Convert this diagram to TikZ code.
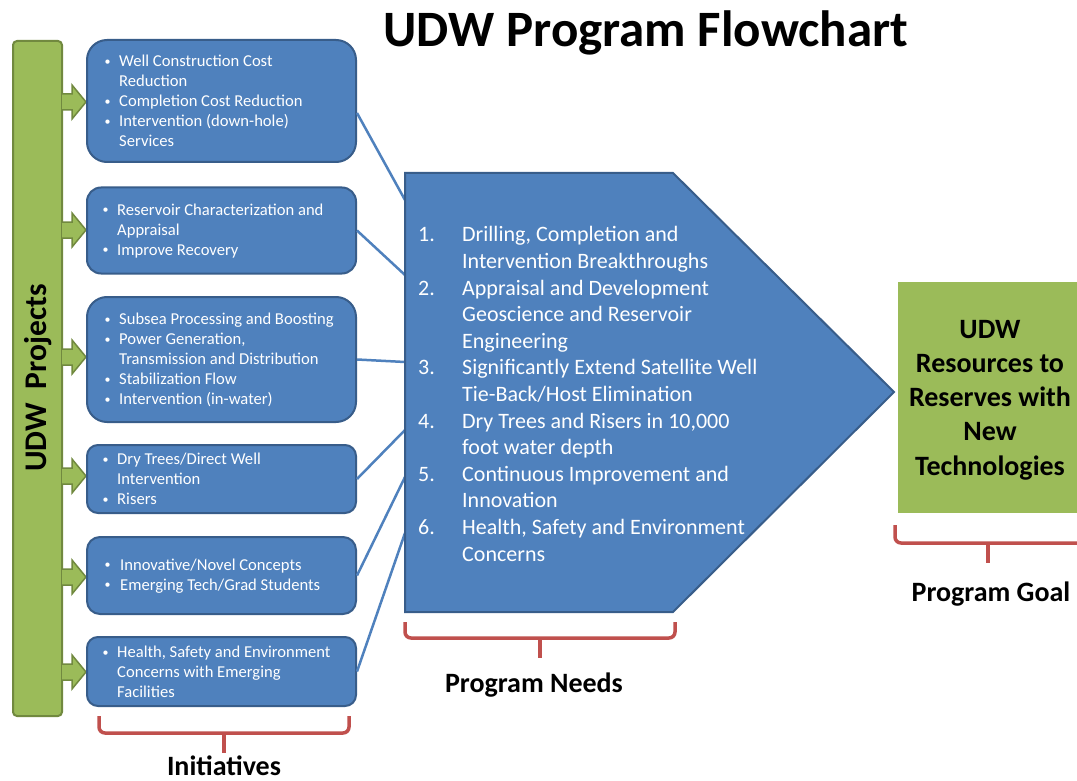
\documentclass[tikz,border=0pt]{standalone}
\usepackage{fontspec}
\setmainfont{Carlito}
\definecolor{bluef}{HTML}{4F81BD}
\definecolor{blueb}{HTML}{385D8A}
\definecolor{greenf}{HTML}{9BBB59}
\definecolor{greenb}{HTML}{71893F}
\definecolor{redc}{HTML}{C0504D}
\newcommand\bdot{\raisebox{1.6pt}{\fontsize{12}{12}\selectfont\textbullet}}
\newcommand\bl{\makebox[16pt][l]{\hspace{1.5pt}\bdot}}
\newcommand\ind{\hspace*{16pt}}
\newcommand\nm[1]{\makebox[44pt][l]{#1}}
\begin{document}
\begin{tikzpicture}[x=1pt,y=-1pt,
  ibox/.style={draw=blueb, fill=bluef, line width=2pt, minimum width=269pt, inner sep=0pt},
  itext/.style={anchor=west, align=left, inner sep=0pt, text=white, font=\fontsize{16.6}{20}\selectfont},
  ntext/.style={anchor=west, align=left, inner sep=0pt, text=white, font=\fontsize{22}{26.6}\selectfont},
  conn/.style={draw=bluef, line width=2.5pt},
  garrow/.style={fill=greenf, draw=greenb, line width=1.5pt, line join=miter},
  brace/.style={draw=redc, line width=3.5pt, rounded corners=6pt},
  lab/.style={font=\fontsize{28}{34}\selectfont\bfseries, anchor=base, inner sep=0pt}]
\useasboundingbox (0,0) rectangle (1077,781);
\fill[white] (0,0) rectangle (1077,781);

% title
\node[font=\fontsize{51}{60}\selectfont\bfseries, anchor=base, inner sep=0pt] (title) at (646,47) {UDW Program Flowchart};

% left bar
\node[draw=greenb, fill=greenf, line width=2pt, rounded corners=4pt, minimum width=49pt, minimum height=675pt, inner sep=0pt] (bar) at (37.5,378.5) {};
\node[rotate=90, font=\fontsize{31.5}{36}\selectfont\bfseries, inner sep=0pt] (projl) at (38,378) {UDW\ \ Projects};

% green arrows
\foreach \yy in {102,230,357,476,577,672}{
  \draw[garrow] (62,\yy-8) -- (72,\yy-8) -- (72,\yy-17) -- (86,\yy) -- (72,\yy+17) -- (72,\yy+8) -- (62,\yy+8);
}

% connector end points on the pentagon
\coordinate (n1) at (405,200);
\coordinate (n2) at (405,275);
\coordinate (n3) at (405,362);
\coordinate (n4) at (405,430);
\coordinate (n5) at (405,477);
\coordinate (n6) at (405,533);

% initiative boxes
\node[ibox, minimum height=122pt, rounded corners=20pt] (b1) at (221.5,101) {};
\node[ibox, minimum height=86pt, rounded corners=14pt] (b2) at (221.5,230.5) {};
\node[ibox, minimum height=125pt, rounded corners=20pt] (b3) at (221.5,359.5) {};
\node[ibox, minimum height=68pt, rounded corners=11pt] (b4) at (221.5,479) {};
\node[ibox, minimum height=77pt, rounded corners=13pt] (b5) at (221.5,575.5) {};
\node[ibox, minimum height=69pt, rounded corners=11pt] (b6) at (221.5,671.5) {};

% connectors
\draw[conn] ([yshift=-12pt]b1.east) -- (n1);
\draw[conn] (b2.east) -- (n2);
\draw[conn] (b3.east) -- (n3);
\draw[conn] (b4.east) -- (n4);
\draw[conn] (b5.east) -- (n5);
\draw[conn] (b6.east) -- (n6);

\node[itext] (t1) at (103,101) {\bl Well Construction Cost\\\ind Reduction\\\bl Completion Cost Reduction\\\bl Intervention (down-hole)\\\ind Services};
\node[itext] (t2) at (101,231) {\bl Reservoir Characterization and\\\ind Appraisal\\\bl Improve Recovery};
\node[itext] (t3) at (103,360) {\bl Subsea Processing and Boosting\\\bl Power Generation,\\\ind Transmission and Distribution\\\bl Stabilization Flow\\\bl Intervention (in-water)};
\node[itext] (t4) at (101,479) {\bl Dry Trees/Direct Well\\\ind Intervention\\\bl Risers};
\node[itext] (t5) at (103,576) {\makebox[17pt][l]{\hspace{1.5pt}\bdot}Innovative/Novel Concepts\\\makebox[17pt][l]{\hspace{1.5pt}\bdot}Emerging Tech/Grad Students};
\node[itext] (t6) at (101,672) {\bl Health, Safety and Environment\\\ind Concerns with Emerging\\\ind Facilities};

% pentagon (program needs)
\draw[fill=bluef, draw=blueb, line width=2pt, line join=miter] (405,173) -- (673,173) -- (894,392) -- (673,612) -- (405,612) -- cycle;
\node[ntext] (needs) at (418,394) {\nm{1.}Drilling, Completion and\\\nm{}Intervention Breakthroughs\\\nm{2.}Appraisal and Development\\\nm{}Geoscience and Reservoir\\\nm{}Engineering\\\nm{3.}Significantly Extend Satellite Well\\\nm{}Tie-Back/Host Elimination\\\nm{4.}Dry Trees and Risers in 10,000\\\nm{}foot water depth\\\nm{5.}Continuous Improvement and\\\nm{}Innovation\\\nm{6.}Health, Safety and Environment\\\nm{}Concerns};

% goal
\node[fill=greenf, minimum width=179pt, minimum height=231pt, inner sep=0pt] (goal) at (987.5,397.5) {};
\node[align=center, inner sep=0pt, font=\fontsize{28}{34.2}\selectfont\bfseries] (goalt) at (990,400) {UDW\\Resources to\\Reserves with\\New\\Technologies};

% braces
\draw[brace] (99,716) -- (99,733) -- (349,733) -- (349,716);
\draw[brace] (224,733) -- (224,753);
\draw[brace] (405,622) -- (405,638) -- (675,638) -- (675,622);
\draw[brace] (540,638) -- (540,658);
\draw[brace] (895,525) -- (895,543) -- (1080,543);
\draw[brace] (988,543) -- (988,563);

% labels
\node[lab] (linit) at (224,775) {Initiatives};
\node[lab] (lneeds) at (534,692) {Program Needs};
\node[lab] (lgoal) at (991,601) {Program Goal};
\end{tikzpicture}
\end{document}
